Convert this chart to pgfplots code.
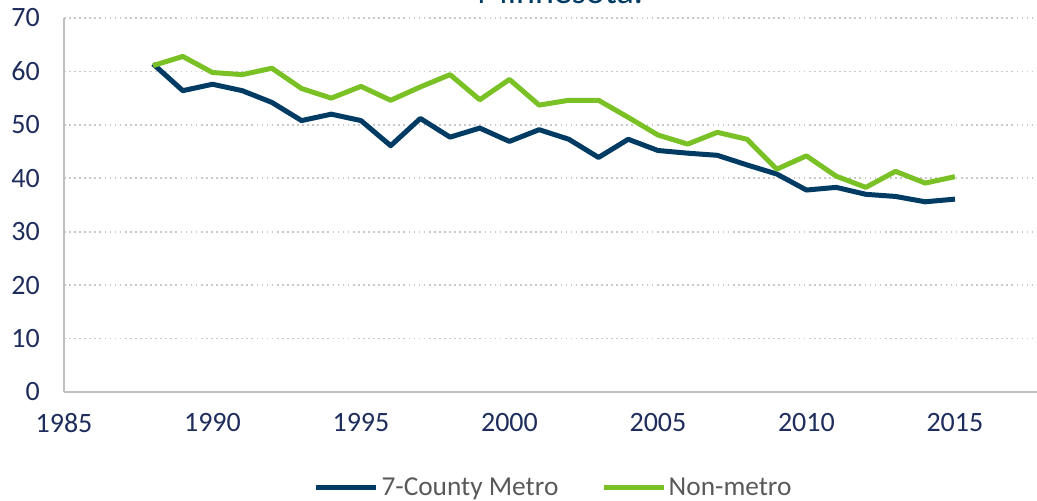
\documentclass[border=0pt]{standalone}
\usepackage{fontspec}
\setmainfont{Carlito}
\usepackage{pgfplots}
\pgfplotsset{compat=1.18}
\definecolor{metro}{HTML}{003B64}
\definecolor{nonmetro}{HTML}{7AC126}
\definecolor{ticktxt}{HTML}{1F2D5C}
\definecolor{legtxt}{HTML}{595959}
\definecolor{axgray}{HTML}{BFBFBF}
\definecolor{gridgray}{HTML}{C8C8C8}
\begin{document}
\begin{tikzpicture}
\begin{axis}[
  scale only axis,
  width=735pt, height=280.5pt,
  at={(48pt,81pt)}, anchor=south west,
  xmin=1985, xmax=2018, ymin=0, ymax=70,
  xtick={1985,1990,...,2015}, ytick={0,10,...,70},
  axis x line=bottom, axis y line=left,
  axis line style={-, axgray, line width=1.5pt},
  x axis line style={-}, y axis line style={-},
  major tick length=0pt,
  ymajorgrids, grid style={gridgray, line width=1.3pt, dash pattern=on 1.3pt off 2.5pt},
  /pgf/number format/assume math mode=true,
  /pgf/number format/1000 sep={},
  tick label style={font=\fontsize{21}{24}\selectfont, text=ticktxt},
  yticklabel style={anchor=east, inner sep=0pt, xshift=-18pt},
  xticklabel style={anchor=north, inner sep=0pt, yshift=-16pt},
  legend style={at={(0.5,-0.255)}, anchor=center, legend columns=2, draw=none, fill=none,
    font=\fontsize{20.5}{24}\selectfont, text=legtxt,
    /tikz/every even column/.append style={column sep=30pt},
    inner sep=0pt},
  legend image code/.code={\draw[#1, line width=3.75pt] (0pt,0pt) -- (45pt,0pt);},
  clip=false,
]
\addplot[metro, line width=3.75pt, line join=round] coordinates {
(1988,61.4) (1989,56.4) (1990,57.6) (1991,56.4) (1992,54.2) (1993,50.8) (1994,52.0)
(1995,50.8) (1996,46.1) (1997,51.2) (1998,47.7) (1999,49.4) (2000,46.9) (2001,49.1)
(2002,47.3) (2003,43.9) (2004,47.3) (2005,45.2) (2006,44.7) (2007,44.3) (2008,42.5)
(2009,40.8) (2010,37.8) (2011,38.3) (2012,37.0) (2013,36.6) (2014,35.6) (2015,36.1)
};
\addlegendentry{7-County Metro}
\addplot[nonmetro, line width=3.75pt, line join=round] coordinates {
(1988,61.1) (1989,62.8) (1990,59.8) (1991,59.4) (1992,60.6) (1993,56.8) (1994,55.0)
(1995,57.2) (1996,54.6) (1997,57.1) (1998,59.4) (1999,54.7) (2000,58.5) (2001,53.7)
(2002,54.6) (2003,54.6) (2004,51.4) (2005,48.1) (2006,46.4) (2007,48.6) (2008,47.3)
(2009,41.7) (2010,44.2) (2011,40.4) (2012,38.3) (2013,41.3) (2014,39.1) (2015,40.3)
};
\addlegendentry{Non-metro}
\end{axis}
\node[anchor=base, text=metro, font=\fontsize{27}{30}\selectfont, inner sep=0pt] at (420pt,372.5pt) {Minnesota.};
\pgfresetboundingbox
\useasboundingbox (0,0) rectangle (777.75pt,375pt);
\end{tikzpicture}
\end{document}
